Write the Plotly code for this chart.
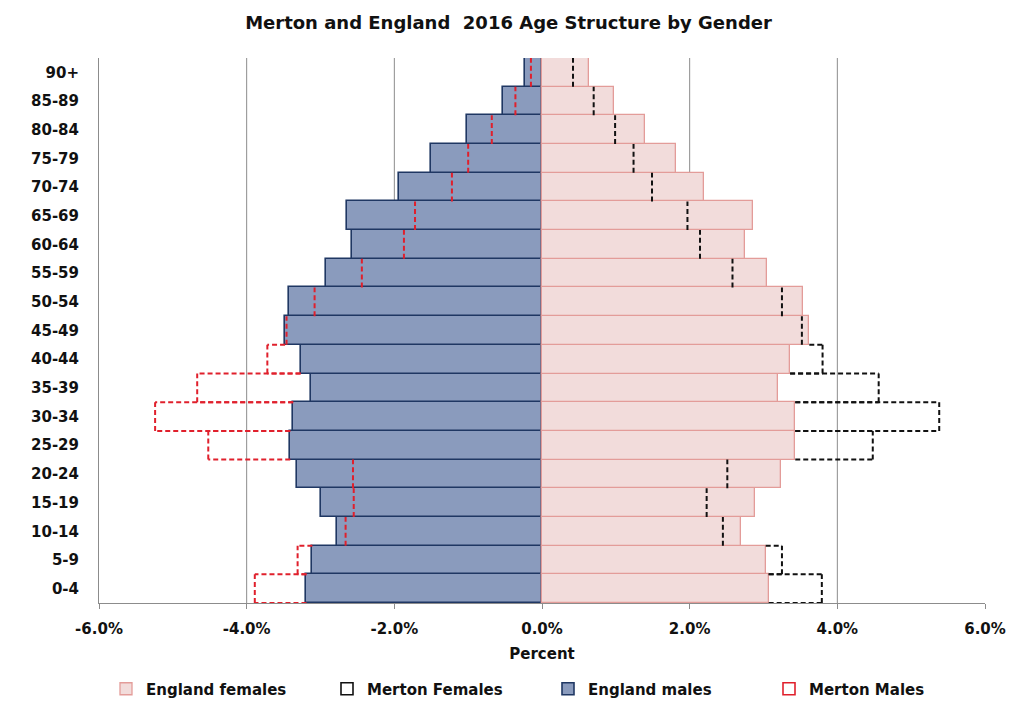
import plotly.graph_objects as go

# Age bands, youngest first (bottom of the pyramid)
ages = ["0-4", "5-9", "10-14", "15-19", "20-24", "25-29", "30-34", "35-39",
        "40-44", "45-49", "50-54", "55-59", "60-64", "65-69", "70-74",
        "75-79", "80-84", "85-89", "90+"]

# Share of total population (%) in each band
england_males = [3.19, 3.11, 2.78, 2.99, 3.32, 3.41, 3.37, 3.13, 3.27, 3.48,
                 3.43, 2.92, 2.57, 2.64, 1.94, 1.50, 1.01, 0.53, 0.23]
merton_males = [3.89, 3.31, 2.66, 2.55, 2.56, 4.52, 5.24, 4.67, 3.72, 3.46,
                3.08, 2.44, 1.87, 1.72, 1.22, 1.00, 0.68, 0.36, 0.15]
england_females = [3.07, 3.03, 2.70, 2.89, 3.24, 3.43, 3.43, 3.20, 3.36, 3.62,
                   3.54, 3.05, 2.75, 2.86, 2.20, 1.81, 1.39, 0.97, 0.64]
merton_females = [3.79, 3.25, 2.45, 2.23, 2.51, 4.48, 5.38, 4.56, 3.80, 3.52,
                  3.25, 2.58, 2.14, 1.97, 1.49, 1.24, 0.99, 0.70, 0.42]

x_ticks = [-6, -4, -2, 0, 2, 4, 6]

FONT = "DejaVu Sans"
BLUE_FILL = "#8a9bbd"
BLUE_LINE = "#1f3763"
PINK_FILL = "#f2dcdb"
PINK_LINE = "#e39c99"
RED = "#e0202c"
BLACK = "#111111"
GRID = "#8c8c8c"

pos = list(range(len(ages)))


def outline(merton, england, sign):
    """Dashed outline of the Merton bars: the end edge always, and the
    top/bottom edges only where they stick out beyond the England bars."""
    xs, ys = [], []
    n = len(merton)
    for i, (m, e) in enumerate(zip(merton, england)):
        xm = sign * m
        xs += [xm, xm, None]
        ys += [i - 0.5, i + 0.5, None]
        for j, yb in ((i - 1, i - 0.5), (i + 1, i + 0.5)):
            start = e
            if 0 <= j < n:
                start = max(e, england[j])
            if m > start:
                xs += [sign * start, xm, None]
                ys += [yb, yb, None]
    return xs, ys


fig = go.Figure()

fig.add_trace(go.Bar(
    y=pos, x=[-v for v in england_males], orientation="h", name="England males",
    marker=dict(color=BLUE_FILL, line=dict(color=BLUE_LINE, width=1.6)),
    legendrank=3,
))
fig.add_trace(go.Bar(
    y=pos, x=england_females, orientation="h", name="England females",
    marker=dict(color=PINK_FILL, line=dict(color=PINK_LINE, width=1.3)),
    legendrank=1,
))

mx, my = outline(merton_males, england_males, -1)
fig.add_trace(go.Scatter(
    x=mx, y=my, mode="lines", showlegend=False, hoverinfo="skip",
    line=dict(color=RED, width=2, dash="5px,3px"),
))
fx, fy = outline(merton_females, england_females, 1)
fig.add_trace(go.Scatter(
    x=fx, y=fy, mode="lines", showlegend=False, hoverinfo="skip",
    line=dict(color=BLACK, width=2, dash="5px,3px"),
))

# Legend keys for the Merton outlines
fig.add_trace(go.Bar(
    y=[None], x=[None], orientation="h", name="Merton Females",
    marker=dict(color="white", line=dict(color=BLACK, width=1.6)),
    legendrank=2,
))
fig.add_trace(go.Bar(
    y=[None], x=[None], orientation="h", name="Merton Males",
    marker=dict(color="white", line=dict(color=RED, width=1.6)),
    legendrank=4,
))

# Vertical gridlines inside the plot area (the -6% edge is the y axis line)
for v in x_ticks[1:-1]:
    fig.add_shape(type="line", xref="x", yref="paper", x0=v, x1=v, y0=0, y1=1,
                  line=dict(color=GRID, width=1), layer="below")

fig.update_layout(
    width=1017, height=727,
    margin=dict(l=99, r=32, t=58, b=124, autoexpand=False),
    paper_bgcolor="white", plot_bgcolor="white",
    barmode="overlay", bargap=0,
    font=dict(family=FONT, size=15, color="#111111", weight="bold"),
    title=dict(
        text="Merton and England  2016 Age Structure by Gender",
        x=0.5, xref="container", xanchor="center",
        y=1 - 23 / 727, yref="container", yanchor="middle",
        font=dict(family=FONT, size=18, color="#111111", weight="bold"),
    ),
    xaxis=dict(
        range=[-6, 6], tickvals=x_ticks,
        ticktext=[f"{v:.1f}%" for v in x_ticks],
        showgrid=False,
        zeroline=False, showline=True, linecolor=GRID, linewidth=1,
        ticks="outside", ticklen=5, tickcolor=GRID,
        ticklabelstandoff=7,
        title=dict(text="Percent", standoff=11,
                   font=dict(family=FONT, size=15, weight="bold")),
    ),
    yaxis=dict(
        range=[-0.5, len(ages) - 0.5], tickvals=pos, ticktext=ages,
        showgrid=False, zeroline=False,
        showline=True, linecolor=GRID, linewidth=1,
        ticks="", ticklabelstandoff=16,
    ),
    legend=dict(
        orientation="h", x=106 / 1017, xref="container", xanchor="left",
        y=1 - 689 / 727, yref="container", yanchor="middle",
        entrywidth=176, traceorder="normal",
        font=dict(family=FONT, size=15, weight="bold"),
    ),
)

fig.write_html("out.html")
